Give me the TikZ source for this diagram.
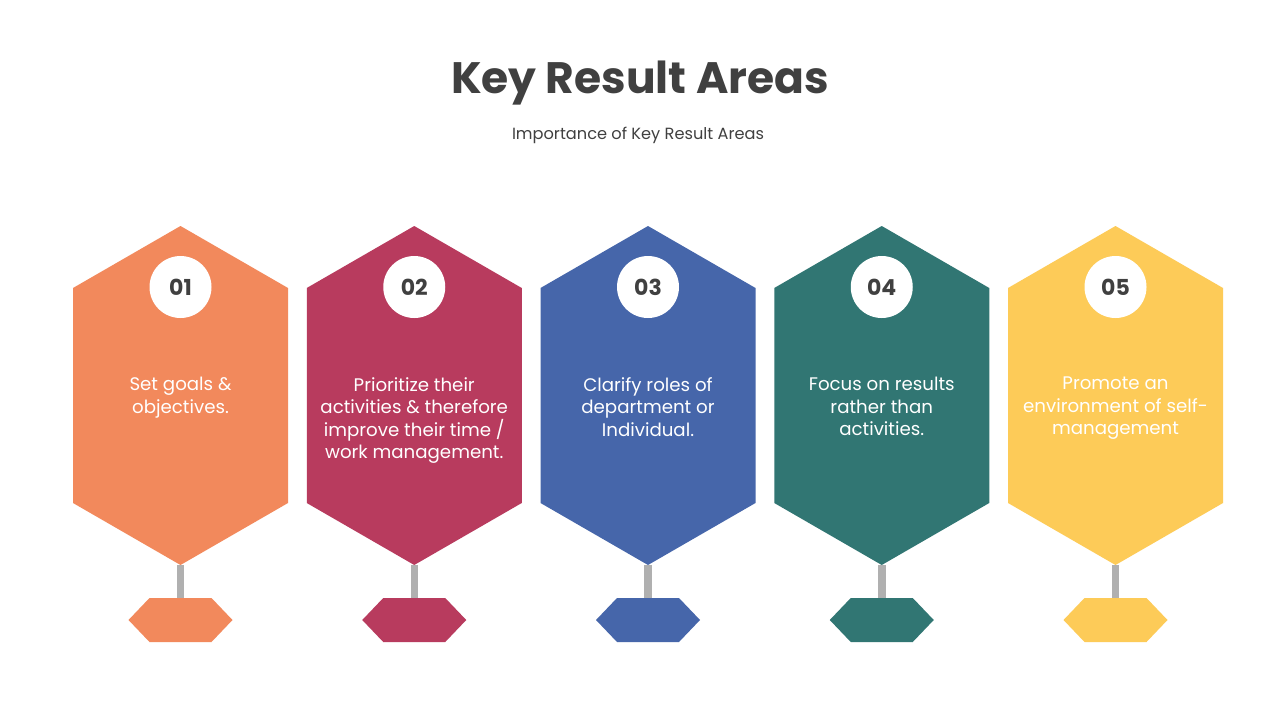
\documentclass[tikz,border=0pt]{standalone}
\usepackage{fontspec}
\setmainfont{Poppins}
\usetikzlibrary{positioning}
\definecolor{krOrange}{HTML}{F2895C}
\definecolor{krRed}{HTML}{B83B5E}
\definecolor{krBlue}{HTML}{4666AA}
\definecolor{krTeal}{HTML}{317673}
\definecolor{krYellow}{HTML}{FDCB58}
\definecolor{krText}{HTML}{404040}
\definecolor{krStem}{HTML}{B0B0B0}
\tikzset{
  numdisc/.style={circle, fill=white, minimum size=62pt, inner sep=0pt,
    font=\fontsize{22}{26}\selectfont\bfseries, text=krText},
  areatext/.style={text=white, align=center, inner sep=0pt,
    font=\fontsize{18.2}{22.5}\selectfont},
  stem/.style={draw=krStem, line width=7.5pt},
}
\begin{document}
\begin{tikzpicture}[x=1pt, y=-1pt]
        \useasboundingbox[fill=white] (0,0) rectangle (1280,720);
        \node[font=\fontsize{44}{48}\selectfont\bfseries, text=krText] (title) at (640,83) {Key Result Areas};
        \node[font=\fontsize{16.2}{18}\selectfont, text=krText] (subtitle) at (638,135) {Importance of Key Result Areas};
        \foreach \i/\col/\txt in {
            1/krOrange/{Set goals \&\\objectives.},
            2/krRed/{Prioritize their\\activities \& therefore\\improve their time /\\work management.},
            3/krBlue/{Clarify roles of\\department or\\Individual.},
            4/krTeal/{Focus on results\\rather than\\activities.},
            5/krYellow/{Promote an\\environment of self-\\management}} {
          \pgfmathsetmacro{\cx}{180.5+(\i-1)*233.75}
          \coordinate (hex\i) at (\cx,395.5);
          \coordinate (tip\i) at (\cx,565);
          \coordinate (foot\i) at (\cx,598);
          \fill[\col] (hex\i) ++(0,-169.5) -- ++(107.5,62) -- ++(0,215) -- ++(-107.5,62)
              -- ++(-107.5,-62) -- ++(0,-215) -- cycle;
          \node[numdisc] (num\i) at (\cx,287) {0\i};
          \node[areatext, anchor=north] (txt\i) at (\cx,377) {\txt};
          \draw[stem] (tip\i) -- (foot\i);
          \fill[\col] (foot\i) ++(-31,0) -- ++(62,0) -- ++(21,22) -- ++(-21,22)
              -- ++(-62,0) -- ++(-21,-22) -- cycle;
        }
\end{tikzpicture}
\end{document}
